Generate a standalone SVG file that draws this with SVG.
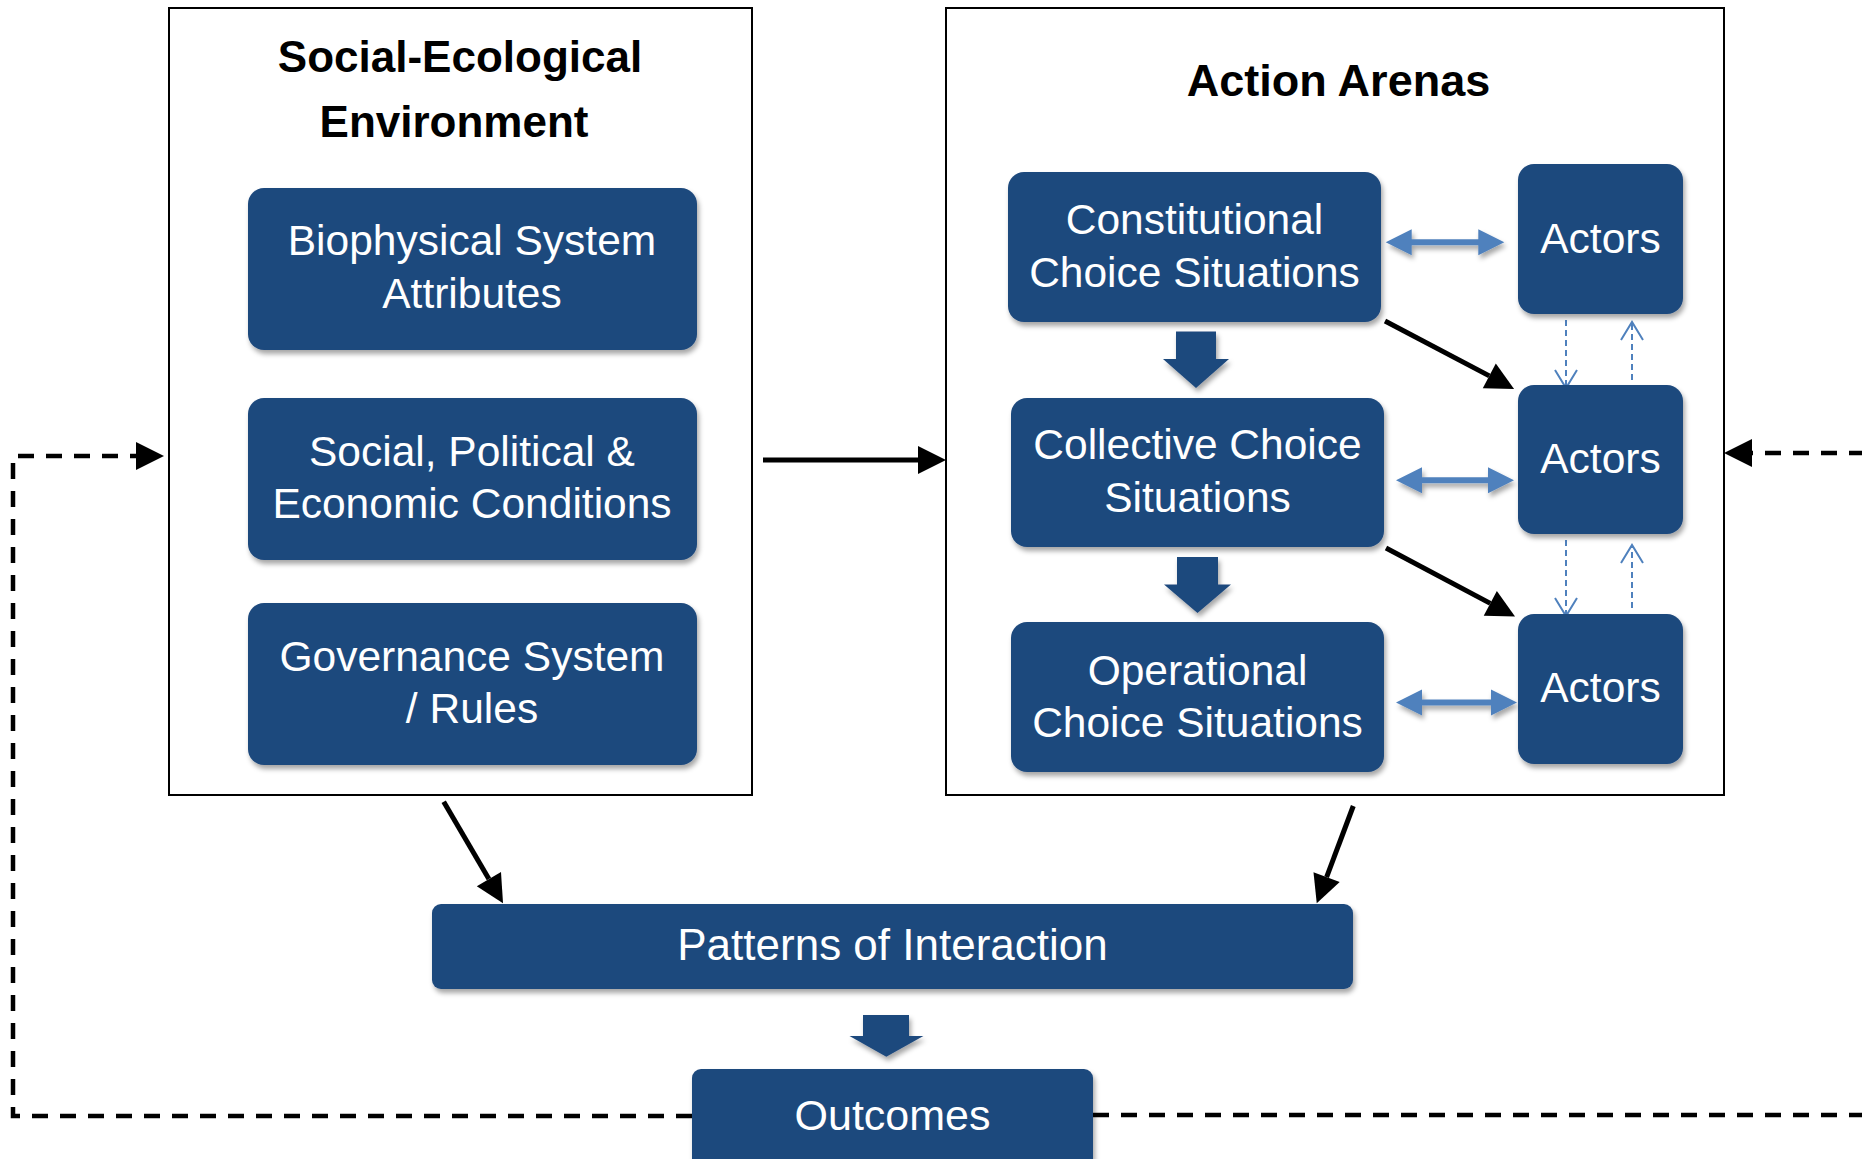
<svg xmlns="http://www.w3.org/2000/svg" width="1862" height="1159" viewBox="0 0 1862 1159">
<style>
.frame{fill:#fff;stroke:#000;stroke-width:2}
.box{fill:#1F497D;filter:url(#sh)}
.lbl{font-family:"Liberation Sans",Arial,sans-serif;font-size:42.5px;fill:#fff;text-anchor:middle}
.ttl{font-family:"Liberation Sans",Arial,sans-serif;font-weight:bold;font-size:44px;fill:#000;text-anchor:middle}
.blk{fill:none;stroke:#000;stroke-width:5;marker-end:url(#ah)}
.dash{fill:none;stroke:#000;stroke-width:4.5;stroke-dasharray:16 12;marker-end:url(#ah)}
.dbl{fill:#4F81BD;filter:url(#sh)}
.thin{fill:none;stroke:#4F81BD;stroke-width:2;stroke-dasharray:6 4;marker-end:url(#vh)}
.bigdn{fill:#1F497D;filter:url(#sh)}
</style>
<defs>
<filter id="sh" x="-10%" y="-10%" width="130%" height="150%">
<feDropShadow dx="2" dy="4" stdDeviation="2.5" flood-color="#000" flood-opacity="0.35"/>
</filter>
<marker id="ah" markerUnits="userSpaceOnUse" markerWidth="30" markerHeight="30" refX="0" refY="14" orient="auto" overflow="visible">
<path d="M0,0 L28,14 L0,28 Z" fill="#000"/>
</marker>
<marker id="vh" markerUnits="userSpaceOnUse" markerWidth="24" markerHeight="26" refX="20" refY="12" orient="auto" overflow="visible">
<path d="M2,1 L20,12 L2,23" fill="none" stroke="#4F81BD" stroke-width="2"/>
</marker>
</defs>
<rect width="1862" height="1159" fill="#fff"/>

<g id="social-ecological-environment">
<rect class="frame" x="169" y="8" width="583" height="787"/>
<text class="ttl" x="460" y="72">Social-Ecological</text>
<text class="ttl" x="454" y="137">Environment</text>
</g>
<g id="action-arenas">
<rect class="frame" x="946" y="8" width="778" height="787"/>
<text class="ttl" x="1338.5" y="95.5" style="font-size:45px">Action Arenas</text>
</g>

<g id="connectors">
<path class="blk" d="M763,460 L918,460"/>
<path class="blk" d="M1385,321 L1489.3,375.9"/>
<path class="blk" d="M1386,548 L1490.3,603.4"/>
<path class="blk" d="M443.7,801.7 L488.9,879.1"/>
<path class="blk" d="M1353.3,806 L1326.6,877.1"/>
<path class="dash" d="M692,1116 L13,1116 L13,456 L136,456"/>
<path class="dash" d="M1093,1115 L1890,1115 L1890,453 L1752,453"/>
<path class="thin" d="M1566,320 L1566,388"/>
<path class="thin" d="M1632,380 L1632,322"/>
<path class="thin" d="M1566,540 L1566,616"/>
<path class="thin" d="M1632,608 L1632,545"/>
<path class="dbl" d="M1385.7,242.3 L1411.7,229.3 V239.3 H1478.3 V229.3 L1504.3,242.3 L1478.3,255.3 V245.3 H1411.7 V255.3 Z"/>
<path class="dbl" d="M1396,480.3 L1422,467.3 V477.3 H1488 V467.3 L1514,480.3 L1488,493.3 V483.3 H1422 V493.3 Z"/>
<path class="dbl" d="M1396,702.6 L1422,689.6 V699.6 H1491 V689.6 L1517,702.6 L1491,715.6 V705.6 H1422 V715.6 Z"/>
<path class="bigdn" d="M1176,331.5 H1216 V359 H1229 L1196,388 L1163,359 H1176 Z"/>
<path class="bigdn" d="M1177,557 H1218 V584.5 H1231 L1197.5,613 L1164,584.5 H1177 Z"/>
<path class="bigdn" d="M863,1015 H909 V1036 H923.4 L886.3,1056.7 L849.5,1036 H863 Z"/>
</g>

<g id="biophysical">
<rect class="box" x="248" y="188" width="449" height="162" rx="16"/>
<text class="lbl" x="472" y="255">Biophysical System</text>
<text class="lbl" x="472" y="308">Attributes</text>
</g>
<g id="social-political">
<rect class="box" x="248" y="398" width="449" height="162" rx="16"/>
<text class="lbl" x="472" y="465.5">Social, Political &amp;</text>
<text class="lbl" x="472" y="518">Economic Conditions</text>
</g>
<g id="governance">
<rect class="box" x="248" y="603" width="449" height="162" rx="16"/>
<text class="lbl" x="472" y="670.5">Governance System</text>
<text class="lbl" x="472" y="723">/ Rules</text>
</g>
<g id="constitutional">
<rect class="box" x="1008" y="172" width="373" height="150" rx="16"/>
<text class="lbl" x="1194.5" y="234">Constitutional</text>
<text class="lbl" x="1194.5" y="287">Choice Situations</text>
</g>
<g id="collective">
<rect class="box" x="1011" y="398" width="373" height="149" rx="16"/>
<text class="lbl" x="1197.5" y="459">Collective Choice</text>
<text class="lbl" x="1197.5" y="512">Situations</text>
</g>
<g id="operational">
<rect class="box" x="1011" y="622" width="373" height="150" rx="16"/>
<text class="lbl" x="1197.5" y="684.5">Operational</text>
<text class="lbl" x="1197.5" y="737">Choice Situations</text>
</g>
<g id="actors-1">
<rect class="box" x="1518" y="164" width="165" height="150" rx="16"/>
<text class="lbl" x="1600.5" y="253">Actors</text>
</g>
<g id="actors-2">
<rect class="box" x="1518" y="385" width="165" height="149" rx="16"/>
<text class="lbl" x="1600.5" y="473">Actors</text>
</g>
<g id="actors-3">
<rect class="box" x="1518" y="614" width="165" height="150" rx="16"/>
<text class="lbl" x="1600.5" y="702">Actors</text>
</g>
<g id="patterns">
<rect class="box" x="432" y="904" width="921" height="85" rx="9"/>
<text class="lbl" x="892.5" y="960" style="font-size:44px">Patterns of Interaction</text>
</g>
<g id="outcomes">
<rect class="box" x="692" y="1069" width="401" height="110" rx="9"/>
<text class="lbl" x="892.5" y="1129.5" style="font-size:43px">Outcomes</text>
</g>
</svg>
